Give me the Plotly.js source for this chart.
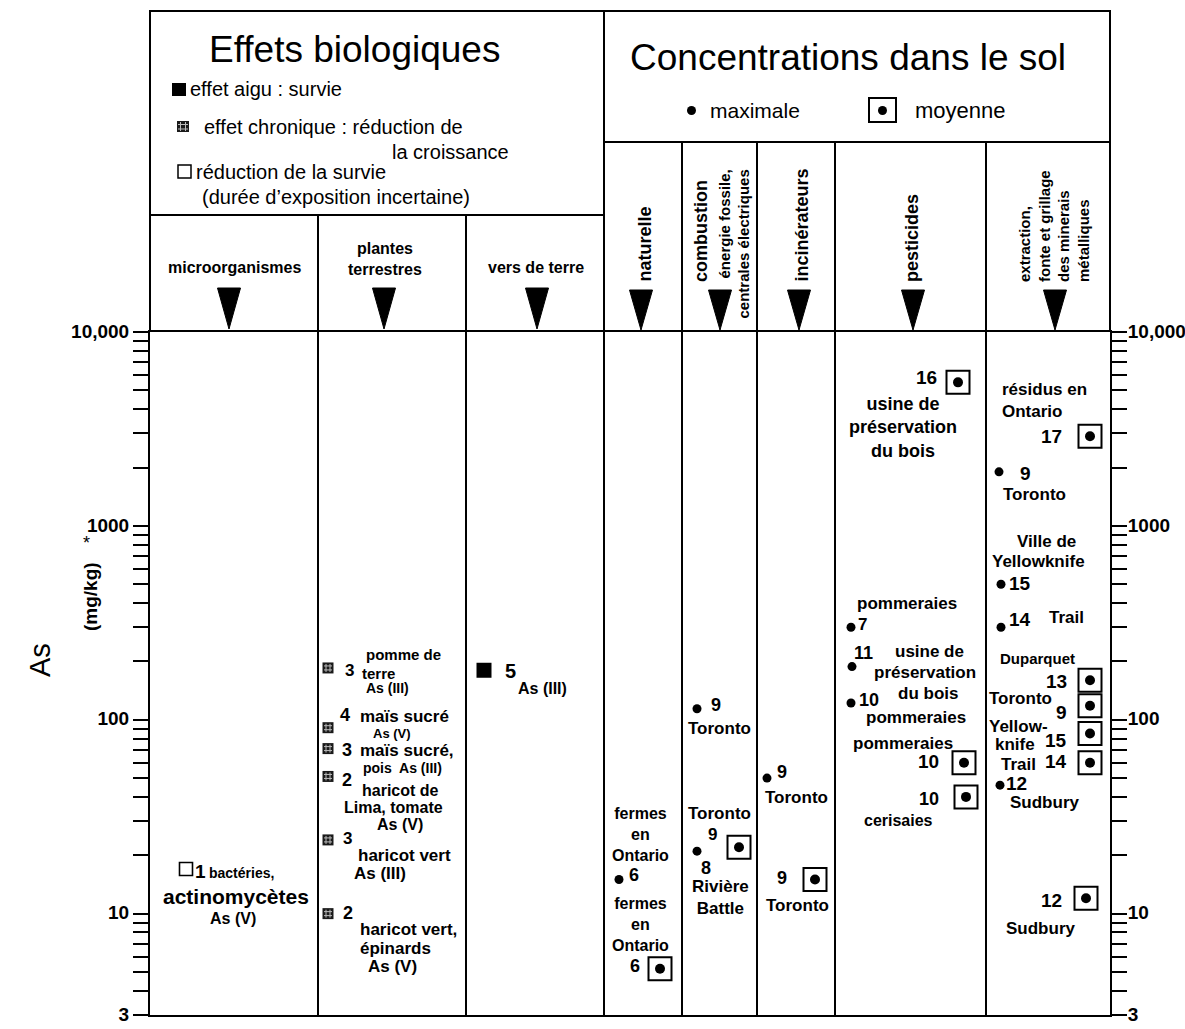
<!DOCTYPE html>
<html>
<head>
<meta charset="utf-8">
<script src="https://cdn.plot.ly/plotly-3.0.1.min.js"></script>
<style>html,body{margin:0;padding:0;background:#fff}#chart{width:1185px;height:1029px}</style>
</head>
<body>
<div id="chart"></div>
<script>
// ---------------- DATA ----------------
const columns = ['microorganismes', 'plantes terrestres', 'vers de terre', 'naturelle',
  'combustion', 'incinérateurs', 'pesticides', 'extraction'];

// Biological effects (mg/kg As)
const effColumn = [0, 1, 1, 1, 1, 1, 1, 2];
const effType   = ['incertain', 'chronique', 'chronique', 'chronique', 'chronique', 'chronique', 'chronique', 'aigu'];
const effValue  = [17, 185, 91, 71, 51, 24, 10, 180];
const effRef    = ['1', '3', '4', '3', '2', '3', '2', '5'];

// Soil concentrations: maxima (dots)
const maxColumn = [3, 4, 4, 5, 6, 6, 6, 7, 7, 7, 7];
const maxValue  = [15, 114, 21, 50, 300, 188, 122, 1900, 500, 300, 46];
const maxRef    = ['6', '9', '8', '9', '7', '11', '10', '9', '15', '14', '12'];

// Soil concentrations: means (boxed dots)
const meanColumn = [3, 4, 5, 6, 6, 6, 7, 7, 7, 7, 7, 7];
const meanValue  = [5.2, 22, 15, 5500, 60, 40, 2900, 160, 118, 85, 60, 12];
const meanRef    = ['6', '9', '9', '16', '10', '10', '17', '13', '9', '15', '14', '12'];

const yTickVals = [3,4,5,6,7,8,9,10,20,30,40,50,60,70,80,90,100,200,300,400,500,600,700,800,900,
  1000,2000,3000,4000,5000,6000,7000,8000,9000,10000];
const yTickLabels = {3: '3', 10: '10', 100: '100', 1000: '1000', 10000: '10,000'};

// ---------------- LAYOUT HELPERS (positions) ----------------
const L = 150, R = 1110, T = 332, B = 1015;
const colEdges = [0, 168, 316, 454, 532, 607, 685, 836, 960]; // column left edges, px from plot left
const effDx  = [36, 10, 10, 10, 10, 10, 10, 18];
const maxDx  = [15, 15, 15, 10, 16, 17, 16, 13, 15, 15, 14];
const meanDx = [56, 57, 58, 123, 129, 131, 104, 104, 104, 104, 104, 100];

const px = X => (X - L) / (R - L);
const py = Y => (B - Y) / (B - T);
const FONT = 'Liberation Sans, Arial, Helvetica, sans-serif';

const annotations = [];
function txt(text, x, y, size, opts) {
  opts = opts || {};
  annotations.push({
    text: opts.bold === false ? text : '<b>' + text.split('<br>').join('</b><br><b>') + '</b>',
    xref: 'paper', yref: 'paper', x: px(x), y: py(y),
    xanchor: opts.anchor || 'center', yanchor: opts.yanchor || 'middle',
    showarrow: false, align: opts.align || (opts.anchor === 'left' ? 'left' : (opts.anchor === 'right' ? 'right' : 'center')),
    font: {family: FONT, size: size, color: '#000'}, textangle: opts.angle || 0
  });
}

// ---------------- TRACES ----------------
const xOf = (cols, dx) => cols.map((c, i) => colEdges[c] + dx[i]);
const effX = xOf(effColumn, effDx);
const pick = (arr, type) => arr.filter((_, i) => effType[i] === type);

const traces = [
  {x: pick(effX, 'incertain'), y: pick(effValue, 'incertain'), type: 'scatter', mode: 'markers',
   marker: {symbol: 'square-open', size: 13, color: '#000', line: {width: 1.6, color: '#000'}}, hoverinfo: 'skip'},
  {x: pick(effX, 'chronique'), y: pick(effValue, 'chronique'), type: 'scatter', mode: 'markers',
   marker: {symbol: 'square', size: 11, color: '#1a1a1a', line: {width: 0}}, hoverinfo: 'skip'},
  {x: pick(effX, 'chronique'), y: pick(effValue, 'chronique'), type: 'scatter', mode: 'markers',
   marker: {symbol: 'hash-open', size: 8, color: '#bbb', line: {width: 1, color: '#bbb'}}, hoverinfo: 'skip'},
  {x: pick(effX, 'aigu'), y: pick(effValue, 'aigu'), type: 'scatter', mode: 'markers',
   marker: {symbol: 'square', size: 15, color: '#000'}, hoverinfo: 'skip'},
  {x: xOf(maxColumn, maxDx), y: maxValue, type: 'scatter', mode: 'markers',
   marker: {symbol: 'circle', size: 9, color: '#000'}, hoverinfo: 'skip'},
  {x: xOf(meanColumn, meanDx), y: meanValue, type: 'scatter', mode: 'markers',
   marker: {symbol: 'square-open', size: 23, color: '#000', line: {width: 2, color: '#000'}}, hoverinfo: 'skip'},
  {x: xOf(meanColumn, meanDx), y: meanValue, type: 'scatter', mode: 'markers',
   marker: {symbol: 'circle', size: 10, color: '#000'}, hoverinfo: 'skip'},
  {x: [0], y: [100], yaxis: 'y2', type: 'scatter', mode: 'markers', marker: {opacity: 0}, hoverinfo: 'skip'}
];

// ---------------- SHAPES (table frame, legend swatches, arrows) ----------------
const line = (x0, y0, x1, y1, w, c) => ({type: 'line', xref: 'paper', yref: 'paper',
  x0: px(x0), y0: py(y0), x1: px(x1), y1: py(y1), line: {color: c || '#000', width: w || 2}});
const rect = (x0, y0, x1, y1, fill, w) => ({type: 'rect', xref: 'paper', yref: 'paper',
  x0: px(x0), y0: py(y0), x1: px(x1), y1: py(y1), fillcolor: fill, line: {color: '#000', width: w === undefined ? 1.5 : w}});
function tri(cx, y0, y1, w) {
  const a = px(cx - w / 2), b = px(cx + w / 2), c = px(cx), t = py(y0), bt = py(y1);
  return {type: 'path', xref: 'paper', yref: 'paper', path: `M ${a} ${t} L ${b} ${t} L ${c} ${bt} Z`,
    fillcolor: '#000', line: {color: '#000', width: 1}};
}
const shapes = [
  line(L, 11, R, 11), line(L, 10, L, T), line(R, 10, R, T),
  line(604, 10, 604, B),
  line(L, 215, 604, 215), line(604, 142, R, 142),
  line(318, 215, 318, B), line(466, 215, 466, B),
  line(682, 142, 682, B), line(757, 142, 757, B), line(835, 142, 835, B), line(986, 142, 986, B),
  rect(172, 83, 186, 96, '#000', 0),
  rect(177, 121, 189, 132, '#1a1a1a', 0),
  line(180.5, 122, 180.5, 131, 1, '#bbb'), line(185.5, 122, 185.5, 131, 1, '#bbb'),
  line(178, 124.5, 188, 124.5, 1, '#bbb'), line(178, 129, 188, 129, 1, '#bbb'),
  rect(178, 165, 191, 178, 'rgba(0,0,0,0)', 1.5),
  {type: 'circle', xref: 'paper', yref: 'paper', x0: px(687), x1: px(696), y0: py(106), y1: py(115), fillcolor: '#000', line: {width: 0}},
  rect(869, 98, 896, 122, 'rgba(0,0,0,0)', 2),
  {type: 'circle', xref: 'paper', yref: 'paper', x0: px(878), x1: px(887), y0: py(106), y1: py(115), fillcolor: '#000', line: {width: 0}},
  tri(229, 288, 329, 23), tri(384, 288, 329, 23), tri(537, 288, 329, 23),
  tri(641, 290, 330, 23), tri(720, 290, 330, 23), tri(799, 290, 330, 23), tri(913, 290, 330, 23), tri(1055, 290, 330, 23)
];

// ---------------- TEXT ----------------
// header
txt('Effets biologiques', 354, 50, 37, {bold: false});
txt('effet aigu : survie', 188, 89, 20, {bold: false, anchor: 'left'});
txt('effet chronique : réduction de', 202, 127, 20, {bold: false, anchor: 'left'});
txt('la croissance', 390, 152, 20, {bold: false, anchor: 'left'});
txt('réduction de la survie', 194, 172, 20, {bold: false, anchor: 'left'});
txt('(durée d’exposition incertaine)', 200, 197, 20, {bold: false, anchor: 'left'});
txt('microorganismes', 234, 267, 16);
txt('plantes<br>terrestres', 385, 259, 16);
txt('vers de terre', 536, 267, 16);
txt('Concentrations dans le sol', 848, 58, 37, {bold: false});
txt('maximale', 708, 110, 21, {bold: false, anchor: 'left'});
txt('moyenne', 913, 110, 22, {bold: false, anchor: 'left'});
txt('naturelle', 644, 284, 18, {angle: -90, yanchor: 'bottom'});
txt('combustion', 701, 284, 18, {angle: -90, yanchor: 'bottom'});
txt('énergie fossile,<br>centrales électriques', 734, 321, 15, {angle: -90, yanchor: 'bottom', align: 'right'});
txt('incinérateurs', 801, 284, 18, {angle: -90, yanchor: 'bottom'});
txt('pesticides', 912, 284, 18, {angle: -90, yanchor: 'bottom'});
txt('extraction,<br>fonte et grillage<br>des minerais<br>métalliques', 1054, 284, 15, {angle: -90, yanchor: 'bottom', align: 'left'});

// y title
txt('As', 40, 660, 29, {bold: false, angle: -90});
txt('(mg/kg)', 90, 597, 19, {angle: -90});
txt('*', 86, 543, 18, {bold: false});

// microorganismes
txt('1', 193, 871, 19, {anchor: 'left'});
txt('bactéries,', 207, 873, 14, {anchor: 'left'});
txt('actinomycètes', 236, 896, 21);
txt('As (V)', 233, 918, 16);

// plantes
txt('pomme de', 403, 654, 15);
txt('3', 343, 670, 17, {anchor: 'left'});
txt('terre', 360, 673, 15, {anchor: 'left'});
txt('As (III)', 387, 688, 14);
txt('4', 338, 715, 18, {anchor: 'left'});
txt('maïs sucré', 358, 716, 17, {anchor: 'left'});
txt('As (V)', 392, 733, 13);
txt('3', 340, 750, 18, {anchor: 'left'});
txt('maïs sucré,', 358, 750, 17, {anchor: 'left'});
txt('pois  As (III)', 361, 768, 14, {anchor: 'left'});
txt('2', 340, 780, 18, {anchor: 'left'});
txt('haricot de', 360, 790, 16, {anchor: 'left'});
txt('Lima, tomate', 393, 807, 16);
txt('As (V)', 400, 824, 16);
txt('3', 341, 838, 17, {anchor: 'left'});
txt('haricot vert', 404, 855, 17);
txt('As (III)', 380, 873, 17);
txt('2', 341, 913, 18, {anchor: 'left'});
txt('haricot vert,', 358, 929, 17, {anchor: 'left'});
txt('épinards', 358, 948, 17, {anchor: 'left'});
txt('As (V)', 392, 966, 17);

// vers de terre
txt('5', 503, 671, 20, {anchor: 'left'});
txt('As (III)', 516, 688, 16, {anchor: 'left'});

// naturelle
txt('fermes<br>en<br>Ontario', 640, 834, 16);
txt('6', 627, 875, 18, {anchor: 'left'});
txt('fermes<br>en<br>Ontario', 640, 924, 16);
txt('6', 642, 966, 18, {anchor: 'right'});

// combustion
txt('9', 709, 705, 18, {anchor: 'left'});
txt('Toronto', 719, 728, 17);
txt('Toronto', 719, 813, 17);
txt('9', 719, 834, 17, {anchor: 'right'});
txt('8', 699, 868, 18, {anchor: 'left'});
txt('Rivière<br>Battle', 720, 897, 17);

// incinérateurs
txt('9', 775, 772, 18, {anchor: 'left'});
txt('Toronto', 796, 797, 17);
txt('9', 789, 878, 18, {anchor: 'right'});
txt('Toronto', 797, 905, 17);

// pesticides
txt('16', 939, 378, 19, {anchor: 'right'});
txt('usine de<br>préservation<br>du bois', 903, 427, 18);
txt('pommeraies', 907, 603, 17);
txt('7', 856, 624, 17, {anchor: 'left'});
txt('11', 852, 653, 18, {anchor: 'left'});
txt('usine de', 929, 651, 17);
txt('préservation', 925, 672, 17);
txt('du bois', 928, 693, 17);
txt('10', 857, 700, 18, {anchor: 'left'});
txt('pommeraies', 916, 717, 17);
txt('pommeraies', 903, 743, 17);
txt('10', 941, 761, 19, {anchor: 'right'});
txt('10', 941, 799, 18, {anchor: 'right'});
txt('cerisaies', 898, 820, 16);

// extraction
txt('résidus en<br>Ontario', 1000, 400, 17, {anchor: 'left'});
txt('17', 1064, 436, 19, {anchor: 'right'});
txt('9', 1018, 473, 19, {anchor: 'left'});
txt('Toronto', 1034, 494, 17);
txt('Ville de', 1046, 541, 17);
txt('Yellowknife', 1038, 561, 17);
txt('15', 1007, 583, 19, {anchor: 'left'});
txt('14', 1007, 619, 19, {anchor: 'left'});
txt('Trail', 1047, 617, 17, {anchor: 'left'});
txt('Duparquet', 1037, 658, 15);
txt('13', 1069, 681, 19, {anchor: 'right'});
txt('Toronto', 987, 698, 17, {anchor: 'left'});
txt('9', 1069, 712, 19, {anchor: 'right'});
txt('Yellow-', 987, 726, 17, {anchor: 'left'});
txt('knife', 993, 744, 17, {anchor: 'left'});
txt('15', 1069, 740, 19, {anchor: 'right'});
txt('Trail', 1018, 764, 17);
txt('14', 1069, 761, 19, {anchor: 'right'});
txt('12', 1004, 783, 19, {anchor: 'left'});
txt('Sudbury', 1044, 802, 17);
txt('12', 1064, 900, 19, {anchor: 'right'});
txt('Sudbury', 1040, 928, 17);

// ---------------- LAYOUT ----------------
const yTickText = yTickVals.map(v => yTickLabels[v] || '');
const yCommon = {
  type: 'log', range: [Math.log10(3), 4], tickmode: 'array', tickvals: yTickVals, ticktext: yTickText,
  ticks: 'outside', ticklen: 15, tickwidth: 2, tickcolor: '#000', showline: true, linewidth: 2, linecolor: '#000',
  showgrid: false, zeroline: false, ticklabelshift: -1,
  tickfont: {family: FONT, size: 19, color: '#000', weight: 'bold'}, fixedrange: true
};
const layout = {
  width: 1185, height: 1029, autosize: false,
  margin: {l: L, r: 1185 - R, t: T, b: 1029 - B, pad: 0},
  paper_bgcolor: '#fff', plot_bgcolor: '#fff', showlegend: false,
  xaxis: {range: [0, 960], showticklabels: false, ticks: '', showgrid: false, zeroline: false,
    showline: true, linewidth: 2, linecolor: '#000', mirror: true, fixedrange: true},
  yaxis: Object.assign({}, yCommon, {side: 'left'}),
  yaxis2: Object.assign({}, yCommon, {side: 'right', overlaying: 'y', ticklabelstandoff: -3}),
  shapes: shapes, annotations: annotations
};
Plotly.newPlot('chart', traces, layout, {staticPlot: true, displayModeBar: false});
</script>
</body>
</html>
